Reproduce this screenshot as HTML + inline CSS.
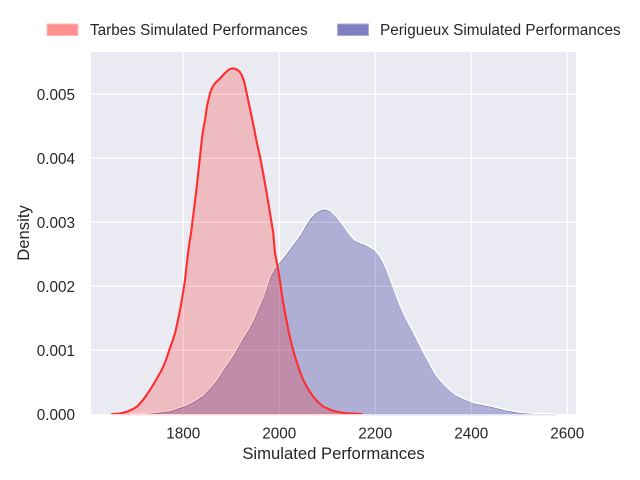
<!DOCTYPE html>
<html><head><meta charset="utf-8"><style>
html,body{margin:0;padding:0;background:#fff;}
svg{display:block;}
text{font-family:"Liberation Sans",Arial,sans-serif;fill:#262626;}
</style></head><body>
<svg width="640" height="480" viewBox="0 0 640 480" xmlns="http://www.w3.org/2000/svg">
<defs><clipPath id="ax"><rect x="91" y="52" width="485" height="362"/></clipPath></defs>
<rect x="0" y="0" width="640" height="480" fill="#ffffff"/>
<rect x="91" y="52" width="485" height="362" fill="#EAEAF2"/>
<g stroke="#ffffff" stroke-width="1.3">
<line x1="183.3" y1="52" x2="183.3" y2="414"/>
<line x1="279.3" y1="52" x2="279.3" y2="414"/>
<line x1="375.3" y1="52" x2="375.3" y2="414"/>
<line x1="471.3" y1="52" x2="471.3" y2="414"/>
<line x1="567.3" y1="52" x2="567.3" y2="414"/>
<line x1="91" y1="94.3" x2="576" y2="94.3"/>
<line x1="91" y1="158.3" x2="576" y2="158.3"/>
<line x1="91" y1="222.3" x2="576" y2="222.3"/>
<line x1="91" y1="286.3" x2="576" y2="286.3"/>
<line x1="91" y1="350.3" x2="576" y2="350.3"/>
</g>
<!-- baseline strips -->
<rect x="112" y="413.5" width="250" height="2" fill="#FFD9DC"/>
<rect x="362" y="413.5" width="194" height="2" fill="#E2E2F4"/>
<g clip-path="url(#ax)">
<path fill="rgba(0,0,128,0.25)" d="M112,414 L130,413.8 L150,413 L170,410.7 L186.7,405 L195,400.5 L203.3,395 L210,388 L216.7,380 L223,370 L230,360 L236,350 L241.7,340 L248,330 L253.3,320 L258,309 L263.3,296.7 L267,286 L270,276.7 L274,269 L278.3,263.3 L285,255 L290,248.3 L300,235 L305,226 L310,218.3 L315,213 L320,210 L324,208.8 L326.7,209 L331,211 L336.7,216.7 L341,222 L346.7,230 L351,236 L355,240 L361,243 L366.7,245 L371,247.5 L375,250 L380,256 L383.3,261.7 L387,270 L390,278.3 L395,291.5 L400,305 L406,318 L413.3,331.7 L418,341 L423.3,351.7 L429,362 L435,373.3 L441,381 L450,390 L456,395 L463.3,398.3 L473.3,402.7 L490,406 L506.7,410 L520,412.3 L535,413.4 L556,414 Z"/>
<polyline transform="translate(0.4,0.8)" fill="none" stroke="#1a1a80" stroke-opacity="0.45" stroke-width="1" stroke-linejoin="round" points="130,413.8 150,413 170,410.7 186.7,405 195,400.5 203.3,395 210,388 216.7,380 223,370 230,360 236,350 241.7,340 248,330 253.3,320 258,309 263.3,296.7 267,286 270,276.7 274,269 278.3,263.3 285,255 290,248.3 300,235 305,226 310,218.3 315,213 320,210 324,208.8 326.7,209 331,211 336.7,216.7 341,222 346.7,230 351,236 355,240 361,243 366.7,245 371,247.5 375,250 380,256 383.3,261.7 387,270 390,278.3 395,291.5 400,305 406,318 413.3,331.7 418,341 423.3,351.7 429,362 435,373.3 441,381 450,390 456,395 463.3,398.3 473.3,402.7 490,406 506.7,410 520,412.3 535,413.4 556,414"/>
<polyline fill="none" stroke="#ffffff" stroke-width="1.4" stroke-linejoin="round" points="130,413.8 150,413 170,410.7 186.7,405 195,400.5 203.3,395 210,388 216.7,380 223,370 230,360 236,350 241.7,340 248,330 253.3,320 258,309 263.3,296.7 267,286 270,276.7 274,269 278.3,263.3 285,255 290,248.3 300,235 305,226 310,218.3 315,213 320,210 324,208.8 326.7,209 331,211 336.7,216.7 341,222 346.7,230 351,236 355,240 361,243 366.7,245 371,247.5 375,250 380,256 383.3,261.7 387,270 390,278.3 395,291.5 400,305 406,318 413.3,331.7 418,341 423.3,351.7 429,362 435,373.3 441,381 450,390 456,395 463.3,398.3 473.3,402.7 490,406 506.7,410 520,412.3 535,413.4 556,414"/>
<path fill="rgba(255,0,0,0.2)" d="M112,414 L120,413.5 L127,411.7 L133,409 L137,406.7 L143,400 L150,390 L156,380 L161.7,370 L166,360 L169.3,350 L172.5,341 L175,333.3 L178,320 L180,310 L183,293 L185,280 L187,262 L189.3,243.3 L191,233.3 L193.5,213 L196,193.3 L198,175 L200,156.7 L202,138 L203.5,128 L205,120 L207,106 L210,93.3 L212.5,87 L215,83.3 L220,78.5 L225,73 L229,69.5 L232,68.3 L236,69 L239.5,71.5 L242,75.5 L244.5,83 L246.7,93.3 L249,104 L251.7,116.7 L254,128 L256.5,141 L260,156.7 L263.5,175 L266.7,193.3 L270,213 L273.3,233.3 L275,253.3 L278.3,270 L282.7,300 L285.5,315 L288.3,330 L291.5,344 L295,356.7 L299,369 L303.3,380 L308,389 L313.3,396.7 L318,402 L323.3,406.7 L333.3,411 L345,413.2 L362,414 Z"/>
<polyline fill="none" stroke="#FF2E2E" stroke-width="2.1" stroke-linejoin="round" stroke-linecap="round" points="112,414 120,413.5 127,411.7 133,409 137,406.7 143,400 150,390 156,380 161.7,370 166,360 169.3,350 172.5,341 175,333.3 178,320 180,310 183,293 185,280 187,262 189.3,243.3 191,233.3 193.5,213 196,193.3 198,175 200,156.7 202,138 203.5,128 205,120 207,106 210,93.3 212.5,87 215,83.3 220,78.5 225,73 229,69.5 232,68.3 236,69 239.5,71.5 242,75.5 244.5,83 246.7,93.3 249,104 251.7,116.7 254,128 256.5,141 260,156.7 263.5,175 266.7,193.3 270,213 273.3,233.3 275,253.3 278.3,270 282.7,300 285.5,315 288.3,330 291.5,344 295,356.7 299,369 303.3,380 308,389 313.3,396.7 318,402 323.3,406.7 333.3,411 345,413.2 362,414"/>
</g>
<!-- y ticks -->
<g font-size="15.3" text-anchor="end">
<text x="75" y="99.8">0.005</text>
<text x="75" y="163.8">0.004</text>
<text x="75" y="227.8">0.003</text>
<text x="75" y="291.8">0.002</text>
<text x="75" y="355.8">0.001</text>
<text x="75" y="419.8">0.000</text>
</g>
<g font-size="15.3" text-anchor="middle">
<text x="183.3" y="438.3">1800</text>
<text x="279.3" y="438.3">2000</text>
<text x="375.3" y="438.3">2200</text>
<text x="471.3" y="438.3">2400</text>
<text x="567.3" y="438.3">2600</text>
</g>
<text x="333.5" y="459" font-size="16.67" text-anchor="middle">Simulated Performances</text>
<text transform="translate(29.2,233) rotate(-90)" font-size="16.67" text-anchor="middle">Density</text>
<!-- legend -->
<rect x="47" y="24" width="31" height="11.5" fill="#FF9090" stroke="#FFB8B8" stroke-width="1"/>
<text x="90" y="35" font-size="15.3">Tarbes Simulated Performances</text>
<rect x="337.5" y="24" width="31" height="11.5" fill="#8080C0" stroke="#ABABDA" stroke-width="1"/>
<text x="380" y="35" font-size="15.3">Perigueux Simulated Performances</text>
</svg>
</body></html>
